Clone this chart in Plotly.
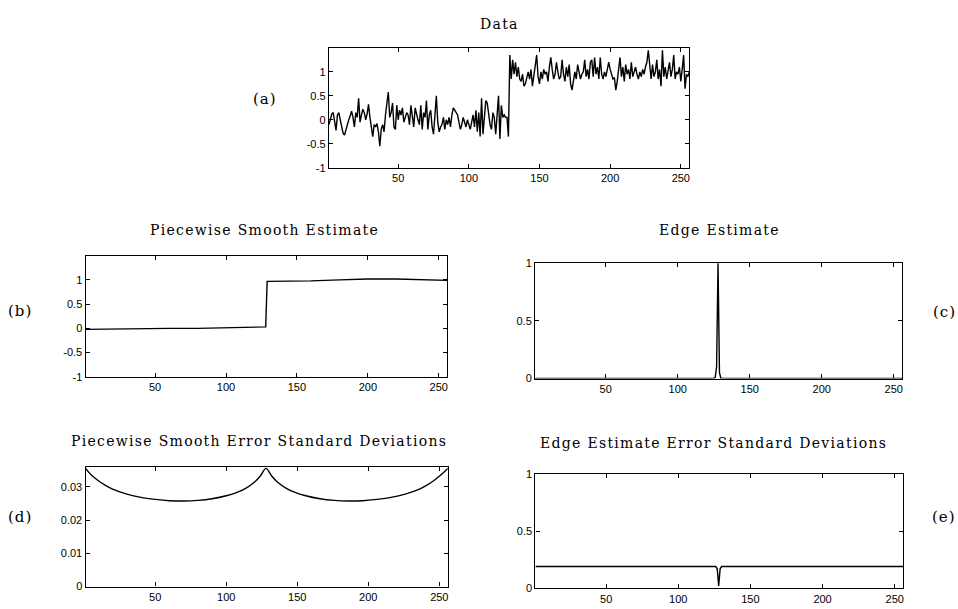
import plotly.graph_objects as go

W, H = 958, 609

# ---------------- data ----------------
data_y = [
    -0.10, 0.05, 0.12, 0.15, -0.05, -0.22, 0.10, 0.15, 0.00, -0.15, -0.28, -0.32, -0.20, -0.10, 0.00, 0.08,
    0.18, 0.05, -0.15, 0.15, 0.05, 0.45, -0.05, 0.10, 0.22, 0.15, 0.00, 0.12, 0.32, 0.05, -0.15, -0.35,
    -0.10, -0.15, -0.08, -0.25, -0.55, -0.20, -0.10, -0.25, 0.10, 0.30, 0.58, 0.05, 0.15, 0.35, -0.15, -0.20,
    0.30, 0.00, 0.20, 0.10, 0.25, -0.05, 0.05, 0.15, 0.10, -0.10, 0.30, 0.05, -0.15, 0.25, 0.10, 0.00,
    -0.10, 0.30, -0.20, 0.15, 0.05, 0.40, -0.20, 0.10, 0.20, -0.15, -0.30, 0.20, 0.50, -0.05, -0.25, -0.15,
    -0.10, 0.05, -0.20, 0.00, -0.10, 0.05, -0.15, 0.10, 0.25, 0.20, 0.15, 0.10, -0.05, -0.20, -0.10, 0.05,
    -0.05, -0.15, 0.00, -0.10, -0.20, -0.05, 0.10, -0.15, 0.20, -0.25, 0.15, -0.35, 0.45, -0.30, 0.00, 0.40,
    0.35, 0.10, -0.10, -0.20, 0.15, 0.05, -0.30, 0.10, 0.50, -0.40, 0.30, 0.05, 0.10, 0.05, 0.05, -0.35,
    1.35, 0.85, 1.25, 0.95, 1.20, 0.90, 1.10, 0.85, 0.80, 0.95, 0.70, 0.75, 0.90, 1.00, 0.85, 1.05,
    0.70, 0.95, 1.10, 1.35, 0.90, 0.75, 1.00, 0.85, 1.05, 0.95, 1.00, 0.80, 1.10, 1.30, 1.05, 0.85,
    0.95, 1.20, 1.00, 0.85, 0.90, 1.25, 0.95, 0.80, 1.10, 0.90, 1.15, 0.75, 0.62, 0.80, 1.00, 0.85,
    1.15, 1.00, 0.85, 0.95, 1.00, 1.25, 0.90, 1.05, 0.85, 1.20, 1.25, 0.90, 1.30, 0.95, 1.10, 0.85,
    1.30, 0.95, 0.85, 1.00, 0.90, 1.05, 1.20, 1.05, 0.95, 0.85, 0.88, 0.62, 0.80, 1.00, 1.30, 0.90,
    1.10, 0.80, 1.15, 0.95, 1.05, 0.85, 1.20, 0.90, 1.00, 1.10, 0.95, 0.85, 1.00, 0.90, 1.05, 0.95,
    1.10, 1.20, 1.45, 1.05, 0.85, 1.15, 0.90, 1.00, 1.25, 0.85, 1.05, 0.70, 1.45, 0.90, 1.10, 0.85,
    1.00, 1.20, 0.90, 1.05, 1.35, 0.85, 1.00, 0.95, 1.10, 0.80, 1.05, 1.35, 0.65, 0.95, 0.90, 1.00,
]
data_x = list(range(1, len(data_y) + 1))

smooth_x = [1, 20, 40, 60, 80, 100, 120, 128, 129, 140, 160, 180, 200, 220, 240, 256]
smooth_y = [-0.02, -0.01, 0.0, 0.0, 0.0, 0.01, 0.02, 0.03, 0.97, 0.97, 0.98, 1.0, 1.02, 1.02, 1.01, 0.99]

edge_x = [1, 125, 126, 127, 128, 129, 130, 256]
edge_y = [0, 0, 0.01, 0.1, 1.0, 0.05, 0, 0]

std_x = [1, 5, 10, 15, 20, 30, 40, 50, 60, 70, 80, 90, 100, 108, 114, 120, 124, 128,
         132, 136, 142, 148, 156, 166, 176, 186, 196, 206, 216, 226, 236, 241, 246, 251, 256]
std_y = [0.0355, 0.0335, 0.0318, 0.0304, 0.0293, 0.0278, 0.0268, 0.0262, 0.0258, 0.0257,
         0.0259, 0.0264, 0.0273, 0.0284, 0.0296, 0.0314, 0.0332, 0.0355,
         0.0332, 0.0314, 0.0296, 0.0284, 0.0273, 0.0264, 0.0259, 0.0257, 0.0258, 0.0262,
         0.0268, 0.0278, 0.0293, 0.0304, 0.0318, 0.0335, 0.0355]

edge_std_x = [1, 126, 127, 128, 129, 130, 256]
edge_std_y = [0.19, 0.19, 0.17, 0.02, 0.17, 0.19, 0.19]

x_ticks = [50, 100, 150, 200, 250]
yt_signed = [-1, -0.5, 0, 0.5, 1]
yt_signed_text = ["-1", "-0.5", "0", "0.5", "1"]
yt_unit = [0, 0.5, 1]
yt_unit_text = ["0", "0.5", "1"]
yt_std = [0, 0.01, 0.02, 0.03]
yt_std_text = ["0", "0.01", "0.02", "0.03"]

titles = ["Data", "Piecewise Smooth Estimate", "Edge Estimate",
          "Piecewise Smooth Error Standard Deviations", "Edge Estimate Error Standard Deviations"]
panel_labels = ["(a)", "(b)", "(c)", "(d)", "(e)"]

# ---------------- layout helpers (pixels -> paper) ----------------
def px_dom(x0, x1):
    return [x0 / W, x1 / W]

def py_dom(top, bottom):
    return [1 - bottom / H, 1 - top / H]

panels = [
    # (x0, x1, top, bottom)
    (329.3, 690.0, 42.7, 165.0),
    (85.7, 447.7, 254.7, 378.3),
    (535.7, 903.3, 262.3, 380.0),
    (85.7, 448.3, 470.0, 592.3),
    (536.0, 904.3, 477.3, 594.0),
]

fig = go.Figure()
series = [
    (data_x, data_y, "linear"),
    (smooth_x, smooth_y, "linear"),
    (edge_x, edge_y, "linear"),
    (std_x, std_y, "spline"),
    (edge_std_x, edge_std_y, "linear"),
]
for i, (xs, ys, shape) in enumerate(series):
    suffix = "" if i == 0 else str(i + 1)
    fig.add_trace(go.Scatter(x=xs, y=ys, mode="lines",
                             line=dict(color="black", width=1.4, shape=shape),
                             xaxis="x" + suffix, yaxis="y" + suffix,
                             showlegend=False, hoverinfo="skip"))

yranges = [[-1, 1.5], [-1, 1.5], [0, 1], [0, 0.036], [0, 1]]
yticks = [(yt_signed, yt_signed_text), (yt_signed, yt_signed_text), (yt_unit, yt_unit_text),
          (yt_std, yt_std_text), (yt_unit, yt_unit_text)]

tick_font = dict(family="Liberation Sans, Arial, sans-serif", size=11, color="black")
layout = dict(width=W, height=H, margin=dict(l=0, r=0, t=0, b=0),
              paper_bgcolor="white", plot_bgcolor="white", showlegend=False)
for i, (x0, x1, top, bottom) in enumerate(panels):
    suffix = "" if i == 0 else str(i + 1)
    common = dict(showgrid=False, zeroline=False, showline=True, linecolor="black",
                  linewidth=1.3, mirror="ticks", ticks="inside", ticklen=4,
                  tickcolor="black", tickfont=tick_font)
    layout["xaxis" + suffix] = dict(domain=px_dom(x0, x1), range=[1, 256],
                                    tickvals=x_ticks, ticktext=[str(t) for t in x_ticks],
                                    anchor="y" + suffix, **common)
    layout["yaxis" + suffix] = dict(domain=py_dom(top, bottom), range=yranges[i],
                                    tickvals=yticks[i][0], ticktext=yticks[i][1],
                                    anchor="x" + suffix, **common)
fig.update_layout(**layout)

serif = dict(family="DejaVu Serif, Liberation Serif, serif", size=14, color="black")
title_pos = [(500, 18), (265, 229), (720, 229), (259, 444), (714, 446)]
for t, (x, y) in zip(titles, title_pos):
    fig.add_annotation(text='<span style="letter-spacing:1.3px">' + t + '</span>',
                       x=x / W, y=1 - y / H, xref="paper", yref="paper",
                       showarrow=False, font=serif, xanchor="center", yanchor="middle")

label_font = dict(family="DejaVu Serif, Liberation Serif, serif", size=15, color="black")
label_pos = [(265, 95), (20, 311), (945, 312), (20, 521), (945, 521)]
for t, (x, y) in zip(panel_labels, label_pos):
    fig.add_annotation(text='<span style="letter-spacing:1px">' + t + '</span>',
                       x=x / W, y=1 - y / H, xref="paper", yref="paper",
                       showarrow=False, font=label_font, xanchor="center", yanchor="middle")

fig.write_html("out.html")
